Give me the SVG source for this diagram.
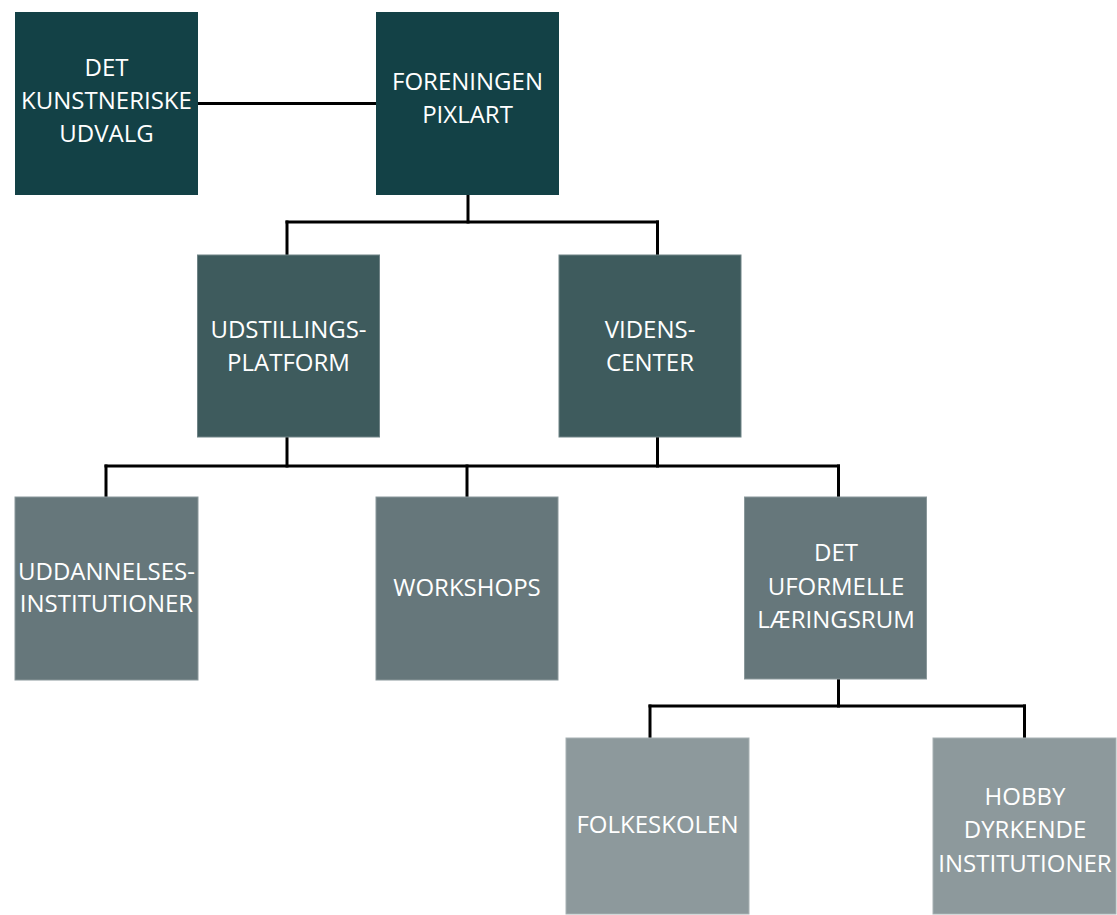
<svg xmlns="http://www.w3.org/2000/svg" width="1117" height="915" viewBox="0 0 1117 915">
  <style>
    .l1 { fill: #134146; }
    .l2 { fill: #3e5b5d; stroke: #6f8386; stroke-width: 1; }
    .l3 { fill: #66777b; stroke: #8a989b; stroke-width: 1; }
    .l4 { fill: #8d999c; stroke: #a7b1b3; stroke-width: 1; }
    text { font-family: "Open Sans", "Liberation Sans", sans-serif; font-size: 24px; fill: #ffffff; text-anchor: middle; }
    .conn line { stroke: #000000; stroke-width: 3; stroke-linecap: square; }
  </style>
  <rect width="1117" height="915" fill="#ffffff"/>
  <g class="conn" id="connectors">
    <line x1="198" y1="103.5" x2="376" y2="103.5"/>
    <line x1="468" y1="195" x2="468" y2="222"/>
    <line x1="287" y1="222" x2="657.5" y2="222"/>
    <line x1="287" y1="222" x2="287" y2="254"/>
    <line x1="657.5" y1="222" x2="657.5" y2="254"/>
    <line x1="287" y1="438" x2="287" y2="466"/>
    <line x1="657.5" y1="438" x2="657.5" y2="466"/>
    <line x1="106" y1="466" x2="838.5" y2="466"/>
    <line x1="106" y1="466" x2="106" y2="496"/>
    <line x1="467" y1="466" x2="467" y2="496"/>
    <line x1="838.5" y1="466" x2="838.5" y2="496"/>
    <line x1="838.5" y1="680" x2="838.5" y2="706"/>
    <line x1="650" y1="706" x2="1024.5" y2="706"/>
    <line x1="650" y1="706" x2="650" y2="737"/>
    <line x1="1024.5" y1="706" x2="1024.5" y2="737"/>
  </g>
  <g id="kunstneriske">
    <rect class="l1" x="15" y="12" width="183" height="183"/>
    <text x="106.5" y="76">DET</text>
    <text x="106.5" y="109">KUNSTNERISKE</text>
    <text x="106.5" y="142">UDVALG</text>
  </g>
  <g id="pixlart">
    <rect class="l1" x="376" y="12" width="183" height="183"/>
    <text x="467.5" y="89.5">FORENINGEN</text>
    <text x="467.5" y="123">PIXLART</text>
  </g>
  <g id="udstilling">
    <rect class="l2" x="197.5" y="255" width="182" height="182"/>
    <text x="288.5" y="338">UDSTILLINGS-</text>
    <text x="288.5" y="371">PLATFORM</text>
  </g>
  <g id="videnscenter">
    <rect class="l2" x="559" y="255" width="182" height="182"/>
    <text x="650" y="338">VIDENS-</text>
    <text x="650" y="371">CENTER</text>
  </g>
  <g id="uddannelse">
    <rect class="l3" x="15" y="497" width="183" height="183"/>
    <text x="106.5" y="580">UDDANNELSES-</text>
    <text x="106.5" y="612">INSTITUTIONER</text>
  </g>
  <g id="workshops">
    <rect class="l3" x="376" y="497" width="182" height="183"/>
    <text x="467" y="596">WORKSHOPS</text>
  </g>
  <g id="uformelle">
    <rect class="l3" x="744.5" y="497" width="182" height="182"/>
    <text x="836" y="561">DET</text>
    <text x="836" y="594.5">UFORMELLE</text>
    <text x="836" y="628">LÆRINGSRUM</text>
  </g>
  <g id="folkeskolen">
    <rect class="l4" x="566" y="738" width="183" height="176"/>
    <text x="657.5" y="833">FOLKESKOLEN</text>
  </g>
  <g id="hobby">
    <rect class="l4" x="933" y="738" width="183" height="176"/>
    <text x="1025" y="805">HOBBY</text>
    <text x="1025" y="838">DYRKENDE</text>
    <text x="1025" y="872">INSTITUTIONER</text>
  </g>
</svg>
